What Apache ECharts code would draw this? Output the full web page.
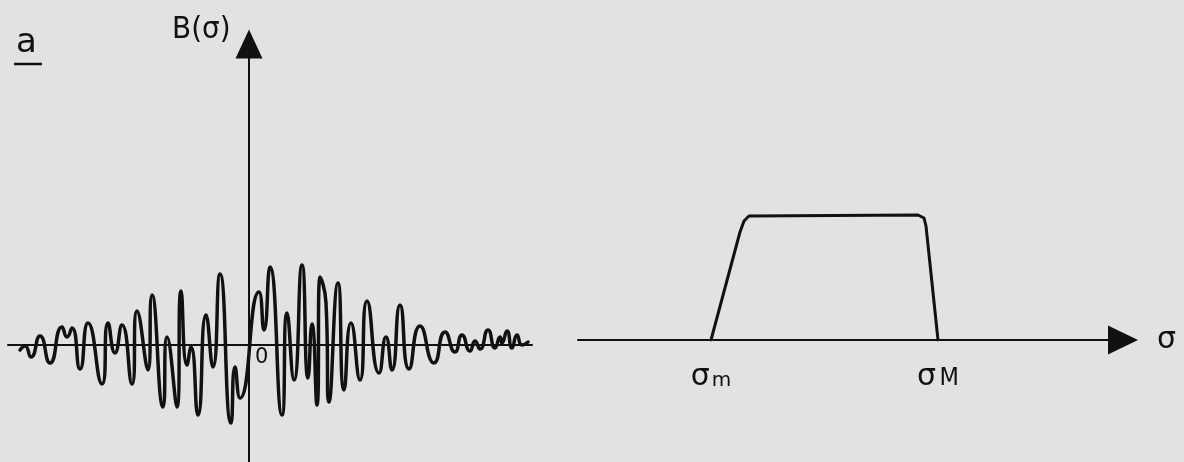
<!DOCTYPE html>
<html>
<head>
<meta charset="utf-8">
<script src="https://cdn.jsdelivr.net/npm/echarts@6/dist/echarts.min.js"></script>
<style>
  html, body { margin: 0; padding: 0; background: #e2e2e2; }
  #chart { width: 1184px; height: 462px; }
</style>
</head>
<body>
<div id="chart"></div>
<script>
// Left panel: the oscillating signal B(σ), sampled at its turning points
const signalSigma = [
  -229, -224, -218, -209, -199, -187, -182, -177, -169, -161,
  -147, -141, -134, -127, -117, -112, -101, -97, -86, -82,
  -72, -68, -62, -58, -51, -43, -36, -29, -18, -14,
  -9, 10, 15, 21, 33, 38, 45, 53, 59, 63,
  68, 71, 77, 80, 89, 95, 102, 111, 118, 130,
  137, 143, 151, 160, 171, 185, 196, 206, 213, 221,
  226, 231, 239, 246, 251, 253, 258, 263, 268, 273, 279
];
const signalB = [
  -5, -1, -12, 9, -18, 18, 8, 17, -24, 22,
  -39, 22, -8, 20, -39, 34, -25, 50, -62, 8,
  -62, 54, -20, -2, -70, 30, -22, 71, -78, -22,
  -53, 53, 15, 78, -70, 32, -35, 80, -33, 21,
  -60, 68, 42, -57, 62, -45, 22, -35, 44, -28,
  8, -25, 40, -24, 19, -18, 13, -7, 10, -6,
  4, -4, 15, -3, 8, 2, 14, -3, 10, 0, 3
];

// Right panel: the spectrum, flat between σm and σM
const spectrumSigma = [133, 162, 166, 171, 340, 346, 348, 360];
const spectrumLevel = [0, 108, 119, 124, 125, 122, 114, 0];
const bandEdges = [133, 360];
const bandEdgeNames = ['m', 'M'];

const ink = '#111';
const handFont = '"DejaVu Sans", sans-serif';
const narrowFont = '"DejaVu Sans Condensed", "DejaVu Sans", sans-serif';

const zip = (xs, ys) => xs.map((x, i) => [x, ys[i]]);

const chart = echarts.init(document.getElementById('chart'), null, { renderer: 'canvas' });

chart.setOption({
  animation: false,
  backgroundColor: '#e2e2e2',
  grid: [
    { left: 8, right: 1184 - 532, top: 44, bottom: 0 },
    { left: 578, right: 61, top: 200, bottom: 122 }
  ],
  xAxis: [
    {
      gridIndex: 0, type: 'value', min: -241, max: 283,
      axisLine: { onZero: true, lineStyle: { color: ink, width: 2 } },
      axisTick: { show: false }, axisLabel: { show: false }, splitLine: { show: false }
    },
    {
      gridIndex: 1, type: 'value', min: 0, max: 545,
      name: 'σ', nameLocation: 'end', nameGap: 34,
      nameTextStyle: { fontSize: 30, color: ink, fontFamily: handFont, padding: [16, 0, 0, 0] },
      axisLine: {
        onZero: false, lineStyle: { color: ink, width: 2 },
        symbol: ['none', 'triangle'], symbolSize: [29, 30]
      },
      axisTick: { show: false },
      splitLine: { show: false },
      axisLabel: {
        show: true,
        customValues: bandEdges,
        margin: 22,
        formatter: (v) => {
          const i = bandEdges.indexOf(v);
          return i < 0 ? '' : '{s|σ}' + (i === 1 ? ' ' : '') + '{' + bandEdgeNames[i] + '|' + bandEdgeNames[i] + '}';
        },
        rich: {
          s: { fontSize: 30, color: ink, fontFamily: handFont },
          m: { fontSize: 20, color: ink, fontFamily: handFont, padding: [8, 0, 0, 2] },
          M: { fontSize: 25, color: ink, fontFamily: narrowFont, padding: [2, 0, 0, 0] }
        }
      }
    }
  ],
  yAxis: [
    {
      gridIndex: 0, type: 'value', min: -117, max: 301,
      axisLine: {
        onZero: true, lineStyle: { color: ink, width: 2 },
        symbol: ['none', 'triangle'], symbolSize: [27, 29]
      },
      axisTick: { show: false }, axisLabel: { show: false }, splitLine: { show: false }
    },
    {
      gridIndex: 1, type: 'value', min: 0, max: 140, show: false
    }
  ],
  series: [
    {
      type: 'line', xAxisIndex: 0, yAxisIndex: 0,
      data: zip(signalSigma, signalB),
      smooth: 0.6,
      symbol: 'none',
      lineStyle: { color: ink, width: 3.5, join: 'round', cap: 'round' }
    },
    {
      type: 'line', xAxisIndex: 1, yAxisIndex: 1,
      data: zip(spectrumSigma, spectrumLevel),
      symbol: 'none',
      lineStyle: { color: ink, width: 3, join: 'round', cap: 'round' }
    }
  ],
  graphic: [
    { type: 'text', left: 16, top: 26, style: { text: 'a', fill: ink, font: '34px ' + handFont } },
    { type: 'line', shape: { x1: 14, y1: 64, x2: 42, y2: 64 }, style: { stroke: ink, lineWidth: 2.5 } },
    { type: 'text', left: 172, top: 14, style: { text: 'B(σ)', fill: ink, font: '300 31px ' + narrowFont } },
    { type: 'text', left: 255, top: 347, style: { text: '0', fill: ink, font: '21px ' + handFont } }
  ]
});
</script>
</body>
</html>
